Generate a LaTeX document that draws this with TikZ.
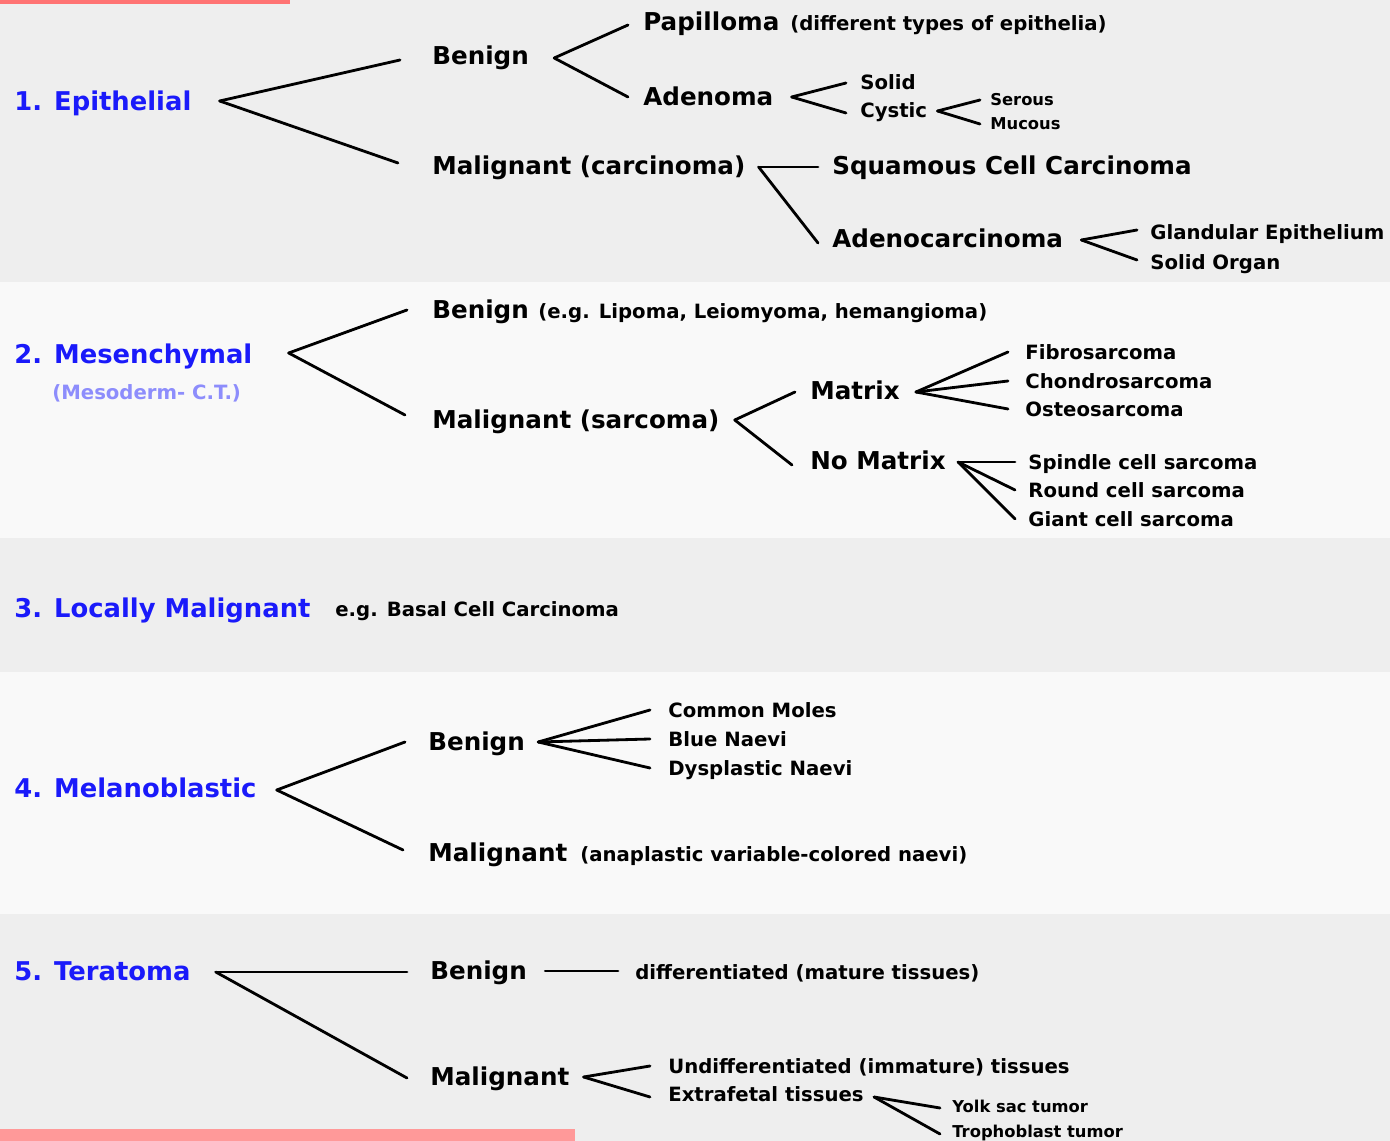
\documentclass[tikz,border=0pt]{standalone}
\usepackage{fontspec}
\setmainfont{DejaVu Sans}
\usetikzlibrary{calc, positioning}
\definecolor{bandgray}{HTML}{EEEEEE}
\definecolor{bandwhite}{HTML}{F9F9F9}
\definecolor{headblue}{HTML}{1A1AFA}
\tikzset{
    head/.style = {anchor=west, inner sep=0pt, text=headblue, font=\bfseries\fontsize{14.7}{16}\selectfont, text height=10.7pt, text depth=0pt},
    headsub/.style = {anchor=west, inner sep=0pt, text=headblue!50, font=\bfseries\fontsize{11.2}{13}\selectfont, text height=8.2pt, text depth=0pt},
    mid/.style = {anchor=west, inner sep=0pt, font=\bfseries\fontsize{14}{16}\selectfont, text height=10.2pt, text depth=0pt},
    sub/.style = {anchor=west, inner sep=0pt, font=\bfseries\fontsize{11.2}{13}\selectfont, text height=8.2pt, text depth=0pt},
    tiny/.style = {anchor=west, inner sep=0pt, font=\bfseries\fontsize{9.3}{11}\selectfont, text height=6.8pt, text depth=0pt},
    br/.style = {line width=1.6pt, line cap=round} % the branch lines
}

\begin{document}
\begin{tikzpicture}[x=0.02cm, y=-0.02cm] % one unit is one pixel of the chart
    % background bands
    \fill[bandgray] (0,0) rectangle (1390,282);
    \fill[bandwhite] (0,282) rectangle (1390,538);
    \fill[bandgray] (0,538) rectangle (1390,672);
    \fill[bandwhite] (0,672) rectangle (1390,914);
    \fill[bandgray] (0,914) rectangle (1390,1141);
    \fill[red!55] (0,0) rectangle (290,4);
    \fill[red!40] (0,1129) rectangle (575,1141);

    % 1. epithelial
    \node[head] (e1) at (14,101) {1. Epithelial};
    \node[mid] (e1b) at (432,56) {Benign};
    \node[mid] (e1m) at (432,166) {Malignant (carcinoma)};
    \node[mid] (pap) at (643,22) {Papilloma};
    \node[sub] (papnote) at (790,23) {(different types of epithelia)};
    \node[mid] (ade) at (643,97) {Adenoma};
    \node[sub] (sol) at (860,82) {Solid};
    \node[sub] (cys) at (860,110) {Cystic};
    \node[tiny] (ser) at (990,100) {Serous};
    \node[tiny] (muc) at (990,124) {Mucous};
    \node[mid] (squ) at (832,166) {Squamous Cell Carcinoma};
    \node[mid] (adc) at (832,239) {Adenocarcinoma};
    \node[sub] (gla) at (1150,232) {Glandular Epithelium};
    \node[sub] (sor) at (1150,262) {Solid Organ};

    \coordinate (e1f) at ($(e1.east)+(28,0)$);
    \draw[br] (e1f) -- ($(e1b.west)+(-32,4)$);
    \draw[br] (e1f) -- ($(e1m.west)+(-34,-3)$);
    \coordinate (e1bf) at ($(e1b.east)+(25,2)$);
    \draw[br] (e1bf) -- ($(pap.west)+(-15,3)$);
    \draw[br] (e1bf) -- ($(ade.west)+(-15,0)$);
    \coordinate (adef) at ($(ade.east)+(18,0)$);
    \draw[br] (adef) -- ($(sol.west)+(-14,1)$);
    \draw[br] (adef) -- ($(cys.west)+(-14,3)$);
    \coordinate (cysf) at ($(cys.east)+(10,1)$);
    \draw[br] (cysf) -- ($(ser.west)+(-10,0)$);
    \draw[br] (cysf) -- ($(muc.west)+(-10,0)$);
    \coordinate (e1mf) at ($(e1m.east)+(13,1)$);
    \draw[br] (e1mf) -- ($(squ.west)+(-14,1)$);
    \draw[br] (e1mf) -- ($(adc.west)+(-14,4)$);
    \coordinate (adcf) at ($(adc.east)+(18,1)$);
    \draw[br] (adcf) -- ($(gla.west)+(-13,-2)$);
    \draw[br] (adcf) -- ($(sor.west)+(-13,-2)$);

    % 2. mesenchymal
    \node[head] (m2) at (14,354) {2. Mesenchymal};
    \node[headsub] (m2sub) at (52,392) {(Mesoderm- C.T.)};
    \node[mid] (m2b) at (432,310) {Benign};
    \node[sub] (m2bnote) at (538,311) {(e.g. Lipoma, Leiomyoma, hemangioma)};
    \node[mid] (m2m) at (432,420) {Malignant (sarcoma)};
    \node[mid] (mat) at (810,391) {Matrix};
    \node[mid] (nom) at (810,461) {No Matrix};
    \node[sub] (fib) at (1025,352) {Fibrosarcoma};
    \node[sub] (cho) at (1025,381) {Chondrosarcoma};
    \node[sub] (ost) at (1025,409) {Osteosarcoma};
    \node[sub] (spi) at (1028,462) {Spindle cell sarcoma};
    \node[sub] (rou) at (1028,490) {Round cell sarcoma};
    \node[sub] (gia) at (1028,519) {Giant cell sarcoma};

    \coordinate (m2f) at ($(m2.east)+(36,-1)$);
    \draw[br] (m2f) -- ($(m2b.west)+(-25,0)$);
    \draw[br] (m2f) -- ($(m2m.west)+(-27,-5)$);
    \coordinate (m2mf) at ($(m2m.east)+(15,0)$);
    \draw[br] (m2mf) -- ($(mat.west)+(-15,1)$);
    \draw[br] (m2mf) -- ($(nom.west)+(-18,4)$);
    \coordinate (matf) at ($(mat.east)+(16,1)$);
    \foreach \n in {fib, cho, ost}
        \draw[br] (matf) -- ($(\n.west)+(-17,0)$);
    \coordinate (nomf) at ($(nom.east)+(12,1)$);
    \foreach \n in {spi, rou, gia}
        \draw[br] (nomf) -- ($(\n.west)+(-13,0)$);

    % 3. locally malignant
    \node[head] (l3) at (14,608) {3. Locally Malignant};
    \node[sub] (l3note) at (335,609) {e.g. Basal Cell Carcinoma};

    % 4. melanoblastic
    \node[head] (m4) at (14,788) {4. Melanoblastic};
    \node[mid] (m4b) at (428,742) {Benign};
    \node[mid] (m4m) at (428,853) {Malignant};
    \node[sub] (m4mnote) at (580,854) {(anaplastic variable-colored naevi)};
    \node[sub] (com) at (668,710) {Common Moles};
    \node[sub] (blu) at (668,739) {Blue Naevi};
    \node[sub] (dys) at (668,768) {Dysplastic Naevi};

    \coordinate (m4f) at ($(m4.east)+(20,2)$);
    \draw[br] (m4f) -- ($(m4b.west)+(-23,0)$);
    \draw[br] (m4f) -- ($(m4m.west)+(-25,-3)$);
    \coordinate (m4bf) at ($(m4b.east)+(13,0)$);
    \foreach \n in {com, blu, dys}
        \draw[br] (m4bf) -- ($(\n.west)+(-18,0)$);

    % 5. teratoma
    \node[head] (t5) at (14,971) {5. Teratoma};
    \node[mid] (t5b) at (430,971) {Benign};
    \node[sub] (dif) at (635,972) {differentiated (mature tissues)};
    \node[mid] (t5m) at (430,1077) {Malignant};
    \node[sub] (und) at (668,1066) {Undifferentiated (immature) tissues};
    \node[sub] (ext) at (668,1094) {Extrafetal tissues};
    \node[tiny] (yol) at (952,1107) {Yolk sac tumor};
    \node[tiny] (tro) at (952,1132) {Trophoblast tumor};

    \coordinate (t5f) at ($(t5.east)+(25,1)$);
    \draw[br] (t5f) -- ($(t5b.west)+(-23,1)$);
    \draw[br] (t5f) -- ($(t5m.west)+(-23,1)$);
    \draw[br] ($(t5b.east)+(18,0)$) -- ($(dif.west)+(-17,-1)$);
    \coordinate (t5mf) at ($(t5m.east)+(14,0)$);
    \draw[br] (t5mf) -- ($(und.west)+(-18,0)$);
    \draw[br] (t5mf) -- ($(ext.west)+(-18,3)$);
    \coordinate (extf) at ($(ext.east)+(10,3)$);
    \draw[br] (extf) -- ($(yol.west)+(-12,1)$);
    \draw[br] (extf) -- ($(tro.west)+(-12,2)$);
\end{tikzpicture}
\end{document}
